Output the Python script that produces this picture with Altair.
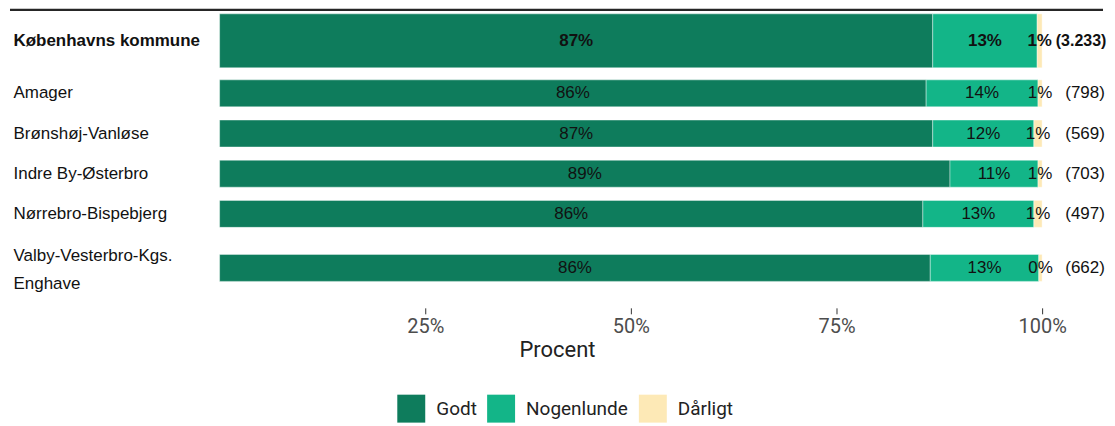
import altair as alt
import pandas as pd

# ---- data ----
regions = [
    "Københavns kommune",
    "Amager",
    "Brønshøj-Vanløse",
    "Indre By-Østerbro",
    "Nørrebro-Bispebjerg",
    "Valby-Vesterbro-Kgs. Enghave",
]
godt = [86.7, 85.9, 86.7, 88.8, 85.5, 86.4]
nogenlunde = [12.7, 13.6, 12.3, 10.7, 13.5, 13.2]
darligt = [0.6, 0.5, 1.0, 0.5, 1.0, 0.4]
godt_lbl = ["87%", "86%", "87%", "89%", "86%", "86%"]
nogenlunde_lbl = ["13%", "14%", "12%", "11%", "13%", "13%"]
darligt_lbl = ["1%", "1%", "1%", "1%", "1%", "0%"]
counts = ["(3.233)", "(798)", "(569)", "(703)", "(497)", "(662)"]

categories = ["Godt", "Nogenlunde", "Dårligt"]
colors = ["#0e7c5c", "#13b588", "#fde9b6"]
x_ticks = [25, 50, 75, 100]

rows = []
for i, r in enumerate(regions):
    for j, (cat, vals, lbls) in enumerate(
        zip(categories, [godt, nogenlunde, darligt], [godt_lbl, nogenlunde_lbl, darligt_lbl])
    ):
        rows.append({"region": r, "kategori": cat, "ordre": j, "andel": vals[i],
                     "etiket": lbls[i], "antal": counts[i]})
df = pd.DataFrame(rows)

SANS = "Liberation Sans, Arial"
xscale = alt.Scale(domain=[0, 100], nice=False, zero=True)

x_axis = alt.Axis(
    values=x_ticks, labelExpr="datum.value + '%'", domain=False, grid=False,
    ticks=True, tickSize=6, tickColor="#333333", tickWidth=1, offset=6,
    labelFont="Roboto", labelFontSize=20, labelColor="#4d4d4d", labelPadding=3,
    labelFlush=False,
    title="Procent", titleFont="Roboto", titleFontSize=22, titleFontWeight="normal",
    titleColor="#222222", titleX=338, titleY=49, titleBaseline="alphabetic",
    titleAlign="center",
)

legend = alt.Legend(
    orient="none", legendX=178, legendY=161, direction="horizontal", title=None,
    symbolType="square", symbolSize=784, symbolStrokeWidth=0, symbolOpacity=1,
    labelFont="Roboto", labelFontSize=19, labelColor="#222222", labelOffset=11,
    columnPadding=10,
)


def panel(names, height, size, bold=False, last=False, top=False):
    sub = df[df["region"].isin(names)]
    weight = "bold" if bold else "normal"
    y_axis = alt.Axis(
        domain=False, ticks=False, labelAlign="left", labelPadding=207,
        labelFont=SANS, labelFontSize=17, labelColor="#111111",
        labelFontWeight=weight, labelLimit=400, labelLineHeight=28,
        labelOffset=-12 if last else 0,
        labelExpr="split(replace(datum.label, '. ', '.|'), '|')",
    )
    yenc = alt.Y("region:N", sort=names, axis=y_axis, title=None)
    xa = x_axis if last else None
    base = alt.Chart(sub)
    bars = base.mark_bar(size=size, stroke="white", strokeWidth=0.8, strokeOpacity=0.5).encode(
        x=alt.X("andel:Q", stack="zero", scale=xscale, axis=xa, title="Procent"),
        y=yenc,
        color=alt.Color("kategori:N", scale=alt.Scale(domain=categories, range=colors),
                        legend=legend if last else None),
        order=alt.Order("ordre:Q"),
    )
    labels = base.transform_stack(
        stack="andel", groupby=["region"], as_=["x0", "x1"], sort=[alt.SortField("ordre")]
    ).transform_calculate(mid="(datum.x0 + datum.x1) / 2").mark_text(
        font=SANS, fontSize=17, fontWeight=weight, color="#111111"
    ).encode(
        x=alt.X("mid:Q", scale=xscale, axis=xa, title="Procent"),
        y=yenc,
        text="etiket:N",
    )
    cnt = base.transform_filter("datum.ordre == 0").mark_text(
        font=SANS, fontSize=16 if bold else 17, fontWeight=weight, color="#111111",
        align="center"
    ).encode(x=alt.value(863 if bold else 867), y=yenc, text="antal:N")
    layers = [bars, labels, cnt]
    if top:
        rule = alt.Chart(sub).transform_filter("datum.ordre == 0").mark_rule(
            color="#262626", strokeWidth=2.5
        ).encode(x=alt.value(-210), x2=alt.value(885), y=alt.value(1.5))
        layers.append(rule)
    return alt.layer(*layers).properties(width=824, height=height)


p1 = panel(regions[:1], 65, 54, bold=True, top=True)
p2 = panel(regions[1:5], 161, 27)
p3 = panel(regions[5:], 68, 27, last=True)

chart = alt.vconcat(p1, p2, p3, spacing=0).resolve_scale(
    color="independent", x="shared"
).resolve_legend(color="independent").properties(
    padding={"left": 0, "top": 0, "right": 0, "bottom": 0}
).configure_view(stroke=None)

chart.save("out.html", embed_options={"renderer": "svg", "actions": False})
